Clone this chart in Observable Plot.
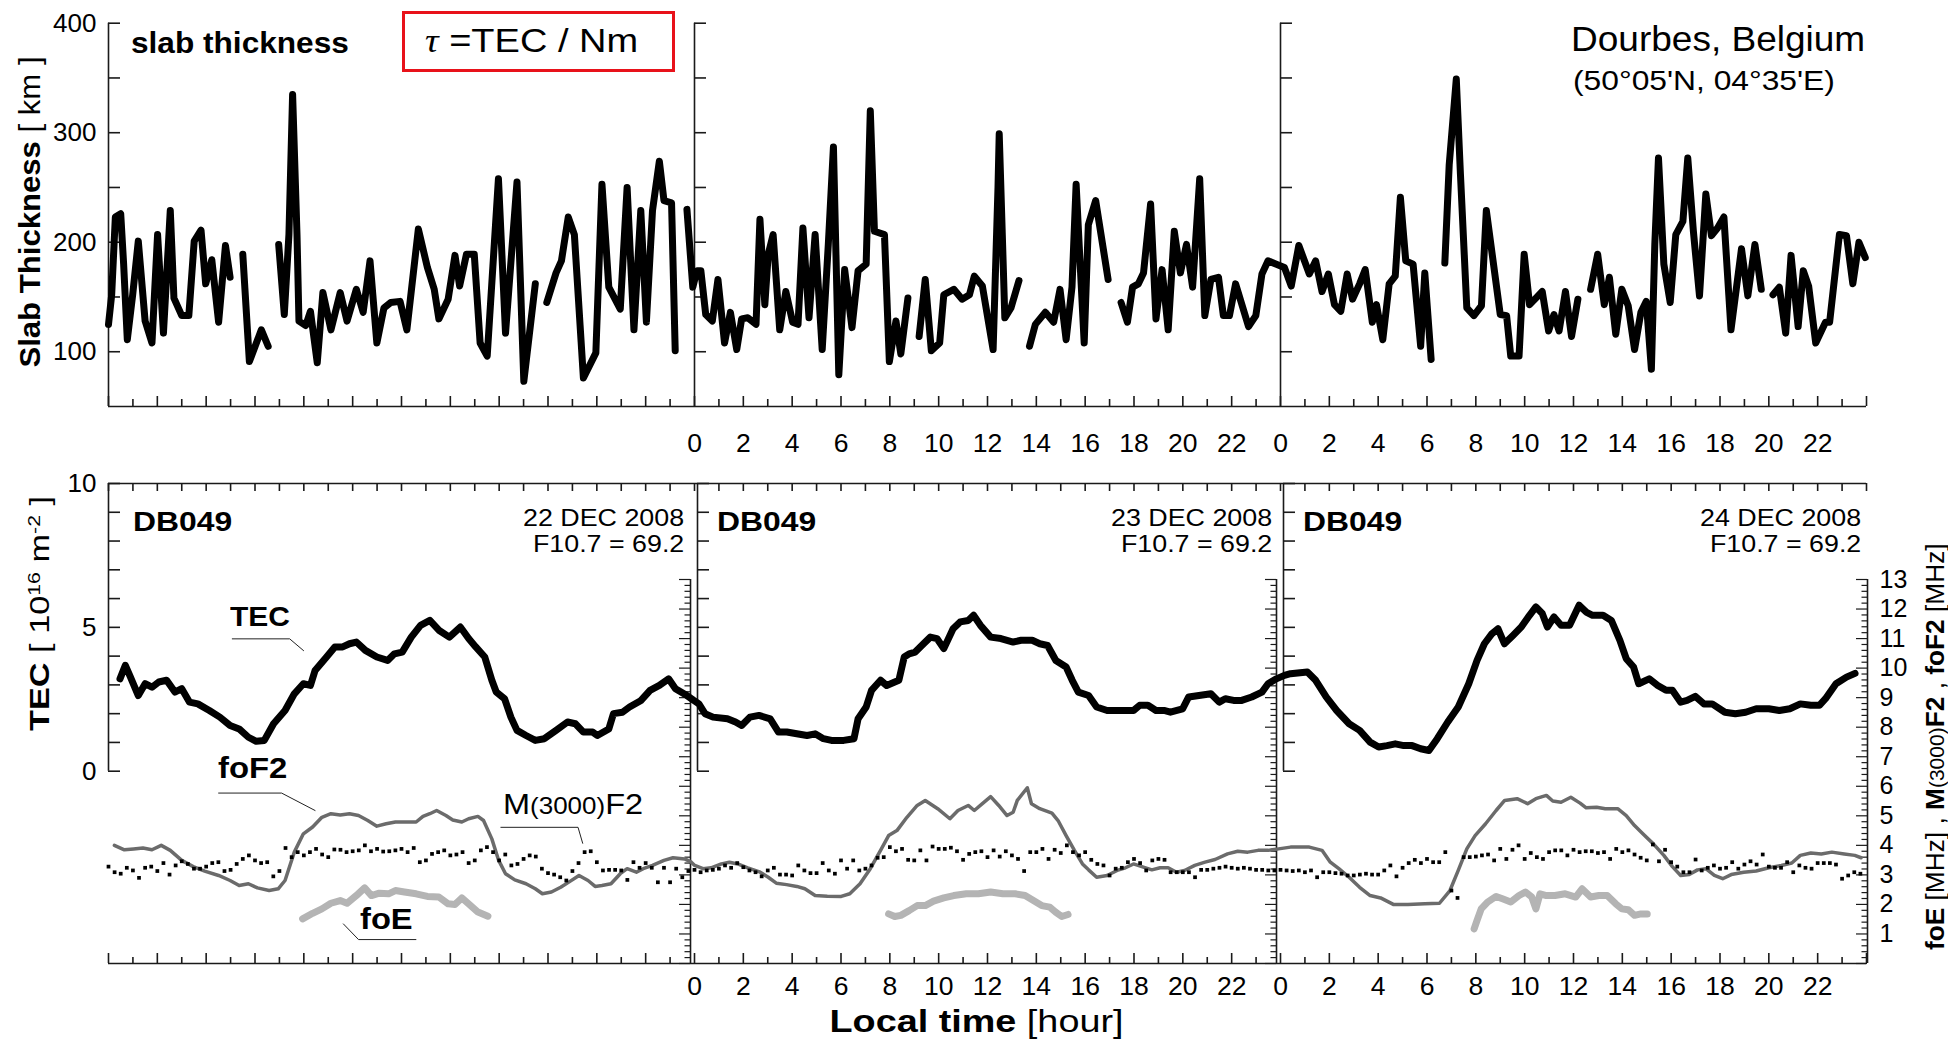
<!DOCTYPE html>
<html><head><meta charset="utf-8">
<script src="https://cdn.jsdelivr.net/npm/d3@7"></script>
<script src="https://cdn.jsdelivr.net/npm/@observablehq/plot@0.6"></script>
<style>
body{margin:0;background:#fff;}
#wrap{position:relative;width:1948px;height:1043px;overflow:hidden;font-family:"Liberation Sans",Arial,sans-serif;color:#000;background:#fff;}
#wrap svg{position:absolute;left:0;}
.t{position:absolute;white-space:nowrap;line-height:1;}
.t sup{font-size:0.62em;vertical-align:0.55em;line-height:0;}
.sm{font-size:0.8em;}
.b{font-weight:bold;}
#taubox{position:absolute;left:402px;top:11px;width:273px;height:61px;box-sizing:border-box;border:3px solid #e8121a;}
</style></head><body><div id="wrap"><div id="taubox"></div></div>
<script>
// ---------------- DATA ----------------
const dayStarts = [0, 24, 48];
const hourTickLabels = [0, 2, 4, 6, 8, 10, 12, 14, 16, 18, 20, 22];
const labeledDays = [1, 2];
const slabTickValues = [100, 150, 200, 250, 300, 350, 400];
const slabTickLabels = [100, 200, 300, 400];
const tecTickValues = [0, 1, 2, 3, 4, 5, 6, 7, 8, 9, 10];
const tecTickLabels = [0, 5, 10];
const mhzTickLabels = [1, 2, 3, 4, 5, 6, 7, 8, 9, 10, 11, 12, 13];
const dates = ["22 DEC 2008", "23 DEC 2008", "24 DEC 2008"];
const f107 = ["F10.7 = 69.2", "F10.7 = 69.2", "F10.7 = 69.2"];
const station = "DB049";

// slab thickness [km] : [local hour (0-72), value], null = gap
const slabThickness = [
[0.00,125],[0.13,152],[0.28,223],[0.50,226],[0.62,180],[0.77,111],[0.99,152],[1.22,201],[1.50,128],[1.78,108],[2.01,207],[2.25,117],[2.53,229],[2.68,149],[3.00,133],[3.29,133],[3.51,201],[3.79,211],[3.98,162],[4.23,184],[4.51,127],[4.79,197],[4.98,168],[5.2,null],
[5.50,189],[5.77,91],[6.26,120],[6.54,105],[6.75,null],
[6.97,198],[7.20,134],[7.39,207],[7.54,335],[7.72,207],[7.80,128],[8.08,124],[8.27,137],[8.55,90],[8.78,154],[9.11,120],[9.49,154],[9.77,128],[10.15,157],[10.43,136],[10.71,183],[10.99,108],[11.28,140],[11.56,145],[11.94,146],[12.22,120],[12.69,212],[13.06,177],[13.34,157],[13.53,130],[13.91,148],[14.19,188],[14.38,160],[14.66,189],[14.98,189],[15.22,108],[15.51,96],[15.97,258],[16.26,117],[16.73,255],[17.01,73],[17.48,162],[17.7,null],
[17.95,145],[18.33,172],[18.55,183],[18.83,223],[19.08,207],[19.45,76],[19.96,99],[20.21,253],[20.49,159],[20.96,139],[21.24,250],[21.52,120],[21.80,229],[22.03,127],[22.28,229],[22.56,274],[22.75,238],[23.06,236],[23.21,101],[23.45,null],
[23.69,230],[23.93,159],[24.10,174],[24.26,174],[24.46,134],[24.73,128],[24.96,166],[25.23,108],[25.47,136],[25.73,102],[25.93,130],[26.18,131],[26.52,125],[26.68,221],[26.88,143],[27.02,189],[27.22,207],[27.49,120],[27.74,155],[28.02,127],[28.24,125],[28.44,213],[28.69,131],[28.94,207],[29.23,102],[29.48,198],[29.69,287],[29.91,79],[30.15,175],[30.45,122],[30.70,174],[31.03,180],[31.20,320],[31.37,210],[31.78,207],[31.98,91],[32.25,128],[32.45,98],[32.74,149],[32.95,null],
[33.20,114],[33.45,166],[33.70,101],[34.04,108],[34.21,152],[34.62,157],[34.96,148],[35.26,152],[35.46,169],[35.79,160],[36.23,102],[36.43,250],[36.48,299],[36.71,131],[36.96,140],[37.29,165],[37.5,null],
[37.72,105],[37.96,125],[38.37,136],[38.71,127],[38.97,157],[39.22,111],[39.46,159],[39.63,253],[39.76,195],[39.96,108],[40.13,216],[40.43,238],[40.94,166],[41.2,null],
[41.47,145],[41.73,127],[41.94,159],[42.18,162],[42.39,172],[42.68,235],[42.90,130],[43.15,175],[43.40,120],[43.65,210],[43.90,172],[44.15,198],[44.40,159],[44.69,258],[44.90,133],[45.15,166],[45.46,168],[45.66,133],[45.91,133],[46.16,162],[46.69,123],[46.99,133],[47.24,171],[47.49,183],[47.83,180],[48.16,177],[48.44,160],[48.75,197],[49.18,171],[49.44,183],[49.70,155],[49.96,171],[50.21,143],[50.47,137],[50.73,171],[50.95,148],[51.24,162],[51.47,175],[51.76,127],[51.93,143],[52.19,111],[52.45,162],[52.70,169],[52.91,241],[53.13,183],[53.43,180],[53.74,105],[53.91,172],[54.17,93],[54.45,null],
[54.73,181],[54.91,271],[55.20,349],[55.37,262],[55.63,140],[55.92,133],[56.23,142],[56.43,229],[57.00,134],[57.26,133],[57.43,96],[57.77,96],[57.98,189],[58.20,143],[58.46,149],[58.72,155],[58.98,119],[59.20,134],[59.41,119],[59.67,155],[59.92,114],[60.18,148],[60.45,null],
[60.70,157],[60.99,189],[61.26,143],[61.47,168],[61.73,116],[61.98,157],[62.24,142],[62.50,102],[62.76,136],[62.98,146],[63.19,84],[63.33,198],[63.48,277],[63.70,180],[63.96,145],[64.19,207],[64.48,219],[64.68,277],[64.91,210],[65.16,151],[65.42,244],[65.65,206],[65.90,213],[66.16,223],[66.45,120],[66.88,194],[67.14,151],[67.43,198],[67.69,157],[67.95,null],
[68.17,152],[68.43,159],[68.69,117],[68.91,188],[69.20,123],[69.41,174],[69.63,160],[69.92,108],[70.32,127],[70.49,127],[70.89,207],[71.18,206],[71.44,162],[71.69,200],[71.95,186]
];

// TEC [10^16 m^-2]
const tec = [
[0.47,3.21],[0.69,3.68],[0.90,3.27],[1.22,2.63],[1.50,3.04],[1.78,2.92],[2.06,3.10],[2.38,3.16],[2.72,2.75],[3.00,2.87],[3.32,2.40],[3.66,2.34],[4.13,2.11],[4.56,1.88],[4.98,1.59],[5.35,1.47],[5.73,1.18],[6.05,1.04],[6.38,1.07],[6.76,1.65],[7.23,2.11],[7.61,2.69],[7.98,3.04],[8.27,2.98],[8.46,3.50],[8.93,3.97],[9.27,4.32],[9.59,4.32],[9.87,4.43],[10.15,4.49],[10.52,4.20],[10.99,3.97],[11.43,3.85],[11.71,4.08],[12.03,4.14],[12.40,4.66],[12.78,5.07],[13.16,5.24],[13.53,4.90],[13.96,4.66],[14.41,5.01],[14.75,4.61],[15.04,4.32],[15.41,3.97],[15.70,3.16],[15.88,2.75],[16.22,2.52],[16.48,1.88],[16.73,1.42],[17.10,1.24],[17.48,1.07],[17.85,1.13],[18.33,1.42],[18.80,1.71],[19.12,1.65],[19.45,1.36],[19.83,1.36],[20.02,1.24],[20.49,1.47],[20.68,2.00],[21.05,2.05],[21.34,2.23],[21.81,2.46],[22.18,2.81],[22.56,2.98],[22.94,3.21],[23.22,2.87],[23.69,2.63],[23.97,2.46],
[24.18,2.34],[24.43,2.00],[24.76,1.88],[25.35,1.82],[25.68,1.71],[25.93,1.59],[26.27,1.88],[26.64,1.94],[27.10,1.82],[27.44,1.36],[27.78,1.36],[28.19,1.30],[28.61,1.24],[28.94,1.30],[29.28,1.13],[29.61,1.07],[30.11,1.07],[30.53,1.13],[30.70,1.82],[31.03,2.23],[31.25,2.81],[31.62,3.16],[31.87,2.98],[32.37,3.16],[32.59,3.97],[32.79,4.08],[33.04,4.14],[33.38,4.43],[33.66,4.66],[33.93,4.61],[34.21,4.26],[34.59,4.95],[34.88,5.19],[35.21,5.24],[35.43,5.42],[35.71,5.07],[36.13,4.66],[36.55,4.61],[36.80,4.55],[37.05,4.49],[37.38,4.55],[37.83,4.55],[38.14,4.43],[38.46,4.37],[38.80,3.85],[39.22,3.62],[39.47,3.16],[39.72,2.75],[40.14,2.63],[40.47,2.23],[40.90,2.11],[41.40,2.11],[41.98,2.11],[42.23,2.29],[42.57,2.29],[42.90,2.11],[43.23,2.11],[43.49,2.05],[43.99,2.17],[44.24,2.58],[44.66,2.63],[45.15,2.69],[45.49,2.40],[45.74,2.52],[46.08,2.46],[46.41,2.46],[46.82,2.58],[47.24,2.75],[47.49,3.04],[47.83,3.21],[48.16,3.33],
[48.41,3.39],[49.10,3.45],[49.44,3.16],[49.87,2.58],[50.30,2.11],[50.81,1.65],[51.24,1.42],[51.67,1.01],[52.02,0.84],[52.36,0.89],[52.70,0.95],[53.05,0.89],[53.39,0.89],[53.74,0.78],[54.08,0.72],[54.42,1.13],[54.85,1.71],[55.28,2.23],[55.71,3.04],[56.05,3.85],[56.35,4.43],[56.66,4.78],[56.91,4.95],[57.17,4.43],[57.52,4.72],[57.86,5.01],[58.20,5.42],[58.46,5.71],[58.72,5.48],[58.93,5.01],[59.20,5.36],[59.49,5.07],[59.84,5.07],[60.23,5.77],[60.52,5.53],[60.78,5.42],[61.21,5.42],[61.55,5.24],[61.90,4.55],[62.16,3.91],[62.46,3.62],[62.67,3.04],[63.10,3.21],[63.45,2.98],[63.79,2.81],[64.05,2.81],[64.39,2.40],[64.65,2.46],[64.99,2.60],[65.34,2.34],[65.68,2.34],[66.20,2.05],[66.63,2.00],[67.05,2.05],[67.48,2.17],[68.00,2.17],[68.43,2.11],[68.86,2.17],[69.29,2.34],[69.72,2.29],[70.07,2.29],[70.32,2.52],[70.75,3.04],[71.18,3.27],[71.53,3.40]
];

// foF2 [MHz]
const foF2 = [
[0.24,4.00],[0.65,3.85],[1.03,3.88],[1.41,3.91],[1.78,3.85],[2.16,4.00],[2.53,3.83],[3.00,3.49],[3.47,3.28],[3.94,3.13],[4.51,2.98],[4.98,2.81],[5.35,2.64],[5.73,2.70],[6.10,2.56],[6.58,2.47],[6.95,2.53],[7.23,2.81],[7.61,3.77],[7.98,4.39],[8.36,4.62],[8.74,4.95],[9.11,5.07],[9.49,5.03],[9.87,5.07],[10.24,5.01],[10.62,4.84],[10.99,4.65],[11.37,4.73],[11.75,4.79],[12.22,4.79],[12.60,4.79],[12.88,4.98],[13.16,5.07],[13.44,5.18],[13.82,5.01],[14.10,4.86],[14.47,4.79],[14.75,4.90],[15.13,4.98],[15.36,4.84],[15.70,4.22],[15.98,3.49],[16.26,3.04],[16.64,2.83],[17.10,2.70],[17.48,2.53],[17.77,2.36],[18.14,2.42],[18.52,2.58],[18.90,2.78],[19.27,2.98],[19.64,2.81],[19.93,2.61],[20.21,2.64],[20.58,2.70],[20.96,3.04],[21.24,3.21],[21.62,3.09],[21.90,3.21],[22.28,3.32],[22.75,3.49],[23.12,3.58],[23.60,3.54],[23.87,3.43],
[24.01,3.32],[24.35,3.21],[24.68,3.24],[25.10,3.37],[25.43,3.43],[25.77,3.37],[26.18,3.24],[26.69,3.09],[27.02,2.92],[27.35,2.72],[27.77,2.67],[28.19,2.61],[28.52,2.53],[28.94,2.30],[29.44,2.28],[30.01,2.27],[30.36,2.36],[30.78,2.70],[31.20,3.21],[31.62,3.83],[31.95,4.33],[32.29,4.50],[32.70,4.95],[33.12,5.35],[33.45,5.52],[33.96,5.24],[34.46,4.90],[34.79,5.18],[35.21,5.35],[35.46,5.18],[35.79,5.41],[36.13,5.65],[36.46,5.35],[36.80,5.01],[37.05,5.12],[37.22,5.52],[37.63,5.95],[37.80,5.41],[38.14,5.24],[38.64,5.09],[38.89,4.84],[39.22,4.33],[39.56,3.83],[39.89,3.37],[40.14,3.17],[40.47,2.92],[40.90,2.98],[41.31,3.15],[41.65,3.24],[41.98,3.37],[42.32,3.28],[42.73,3.17],[43.07,3.24],[43.40,3.24],[43.74,3.09],[44.07,3.15],[44.49,3.32],[44.91,3.43],[45.32,3.52],[45.83,3.71],[46.25,3.80],[46.66,3.77],[47.08,3.83],[47.50,3.83],[47.92,3.88],
[48.41,3.94],[49.18,3.94],[49.70,3.83],[50.04,3.43],[50.39,3.21],[50.81,2.92],[51.24,2.58],[51.67,2.30],[52.10,2.22],[52.62,2.00],[53.22,2.00],[53.91,2.02],[54.51,2.04],[54.94,2.47],[55.28,3.15],[55.63,3.88],[55.97,4.33],[56.40,4.73],[56.83,5.18],[57.18,5.52],[57.69,5.58],[58.12,5.41],[58.46,5.58],[58.89,5.69],[59.15,5.50],[59.49,5.46],[59.89,5.63],[60.27,5.43],[60.52,5.27],[60.95,5.29],[61.30,5.24],[61.81,5.24],[62.16,5.01],[62.50,4.67],[62.84,4.39],[63.27,4.05],[63.70,3.66],[64.05,3.28],[64.39,2.98],[64.74,3.01],[65.08,3.17],[65.42,3.21],[65.77,2.98],[66.11,2.87],[66.46,3.01],[66.97,3.09],[67.48,3.13],[68.00,3.24],[68.51,3.32],[68.94,3.40],[69.29,3.66],[69.72,3.74],[70.15,3.71],[70.58,3.77],[71.09,3.71],[71.52,3.66],[71.78,3.58]
];

// foE [MHz]
const foE = [
[7.95,1.51],[8.36,1.70],[8.74,1.85],[9.11,2.04],[9.49,2.13],[9.77,2.04],[10.15,2.30],[10.49,2.56],[10.77,2.30],[11.09,2.38],[11.47,2.36],[11.75,2.47],[12.12,2.42],[12.60,2.36],[13.06,2.27],[13.53,2.25],[13.91,2.02],[14.19,2.00],[14.47,2.22],[14.75,2.02],[15.13,1.74],[15.54,1.60],[20,null],
[31.95,1.68],[32.20,1.59],[32.45,1.63],[32.79,1.79],[33.12,1.96],[33.45,1.96],[33.79,2.11],[34.21,2.22],[34.62,2.30],[35.13,2.36],[35.63,2.36],[36.13,2.42],[36.63,2.36],[37.13,2.36],[37.54,2.30],[37.88,2.13],[38.22,1.96],[38.55,1.91],[38.79,1.74],[39.04,1.59],[39.30,1.66],[45,null],
[55.93,1.17],[56.05,1.46],[56.22,1.85],[56.48,2.08],[56.83,2.27],[57.09,2.19],[57.43,2.08],[57.77,2.30],[58.03,2.42],[58.29,2.25],[58.46,1.85],[58.63,2.36],[58.89,2.30],[59.24,2.30],[59.66,2.36],[60.09,2.25],[60.35,2.53],[60.70,2.25],[61.04,2.30],[61.38,2.30],[61.73,2.02],[61.98,1.85],[62.24,1.82],[62.50,1.63],[62.76,1.68],[63.02,1.68]
];

// M(3000)F2, one value every 15 min for each day
const m3000Day1 = [3.28,3.09,3.04,3.24,3.15,2.90,3.24,3.28,3.13,3.40,3.01,3.32,3.46,3.37,3.21,3.21,3.28,3.40,3.43,3.13,3.17,3.37,3.54,3.66,3.49,3.40,3.43,2.95,3.13,3.91,3.60,3.77,3.66,3.77,3.88,3.69,3.60,3.86,3.85,3.77,3.80,3.83,4.00,3.80,3.88,3.79,3.80,3.83,3.88,3.77,3.91,3.43,3.49,3.71,3.77,3.83,3.66,3.69,3.77,3.40,3.49,3.83,3.94,3.77,3.49,3.69,3.32,3.37,3.54,3.66,3.62,3.21,3.06,3.01,2.92,2.81,3.13,3.40,3.77,3.80,3.43,3.15,3.17,3.17,3.15,2.83,3.43,3.24,3.40,3.24,2.75,3.24,2.75,3.21,2.92,3.13];
const m3000Day2 = [3.17,3.09,3.15,3.17,3.21,3.32,3.24,3.40,3.26,3.15,3.09,2.95,3.15,3.24,3.01,3.01,2.98,3.32,3.15,3.06,3.06,3.40,3.15,3.04,3.49,3.21,3.49,3.15,3.21,3.32,3.58,3.60,3.94,3.80,3.88,3.51,3.49,3.83,3.49,3.96,3.88,3.88,3.92,3.80,3.51,3.71,3.77,3.80,3.60,3.83,3.62,3.80,3.66,3.54,3.13,3.77,3.77,3.88,3.54,3.85,3.74,4.00,3.77,3.66,3.77,3.51,3.37,3.32,2.98,3.21,3.24,3.43,3.54,3.40,3.15,3.49,3.54,3.51,3.09,3.09,3.09,3.09,2.92,3.17,3.17,3.21,3.24,3.28,3.24,3.21,3.24,3.21,3.17,3.17,3.15,3.15];
const m3000Day3 = [3.17,3.15,3.13,3.15,3.09,3.15,2.92,3.09,3.09,3.06,3.04,2.98,2.98,3.01,3.04,3.01,3.01,3.15,3.32,2.95,3.24,3.40,3.51,3.40,3.54,3.43,3.43,3.77,2.47,2.22,3.60,3.60,3.62,3.66,3.69,3.49,3.88,3.54,3.85,4.00,3.54,3.74,3.60,3.54,3.77,3.83,3.83,3.66,3.85,3.77,3.80,3.80,3.74,3.77,3.54,3.88,3.77,3.83,3.69,3.58,3.49,4.03,3.46,3.85,3.43,3.28,3.09,3.09,3.52,3.15,3.24,3.32,3.21,3.24,3.43,3.21,3.35,3.46,3.35,3.69,3.28,3.24,3.24,3.43,3.09,3.32,3.24,3.21,3.40,3.40,3.40,3.35,2.87,2.98,3.09,3.04];

// label leader lines (hour, value); unit: "tec" or "mhz"
const leaders = [
  {unit: "tec", pts: [[5.07,4.60],[7.42,4.60],[7.99,4.19]]},
  {unit: "mhz", pts: [[4.51,5.77],[7.09,5.77],[8.46,5.18]]},
  {unit: "mhz", pts: [[16.07,4.61],[19.23,4.61],[19.42,4.07]]},
  {unit: "mhz", pts: [[9.62,1.34],[10.24,0.81],[12.59,0.81]]}
];

// ---------------- LAYOUT ----------------
const W = 1948, ML = 108, MR = 82;
const hPerPx = 72 / (W - ML - MR);
const AX = "#1a1a1a", AXW = 1.6;
const FONT = "Liberation Sans, Arial, Helvetica, sans-serif";
const wrap = document.getElementById("wrap");
const hourTicks = d3.range(0, 73);
const labeledHours = labeledDays.flatMap(d => hourTickLabels.map(h => ({x: d * 24 + h, t: String(h)})));

// ---- top panel: slab thickness ----
const topH = 465, topMT = 22.7, topMB = 59;
const kmPerPx = (400 - 50) / (topH - topMT - topMB);
const slabTicks = dayStarts.flatMap(x => slabTickValues.map(v => ({x, v})));

const topChart = Plot.plot({
  width: W, height: topH,
  marginLeft: ML, marginRight: MR, marginTop: topMT, marginBottom: topMB,
  x: {domain: [0, 72], axis: null},
  y: {domain: [50, 400], axis: null},
  style: {fontFamily: FONT, background: "transparent", overflow: "visible", color: "#000"},
  marks: [
    Plot.ruleX(dayStarts, {x: d => d, y1: 50, y2: 400, stroke: AX, strokeWidth: AXW}),
    Plot.ruleY([50], {x1: 0, x2: 72, stroke: AX, strokeWidth: AXW}),
    Plot.ruleY(slabTicks, {y: "v", x1: "x", x2: d => d.x + 12 * hPerPx, stroke: AX, strokeWidth: AXW}),
    Plot.ruleX(hourTicks, {x: d => d, y1: 50, y2: d => 50 + (d % 2 ? 7 : 10) * kmPerPx, stroke: AX, strokeWidth: AXW}),
    Plot.text(slabTickLabels, {x: 0, y: d => d, text: d => String(d), textAnchor: "end", dx: -12, fontSize: 26, lineAnchor: "middle", fill: "#000"}),
    Plot.text(labeledHours, {x: "x", y: 50, text: "t", dy: 37, fontSize: 26.5, lineAnchor: "middle", fill: "#000"}),
    Plot.line(slabThickness, {x: d => d[0], y: d => d[1], stroke: "#000", strokeWidth: 7, strokeLinejoin: "round", strokeLinecap: "round"})
  ]
});
topChart.style.top = "0px";
wrap.appendChild(topChart);

// ---- bottom panel: TEC, foF2, M(3000)F2, foE ----
const botTop = 465, botH = 578, botMT = 18, botMB = 80;
const TEC_MIN = -6.684, TEC_MAX = 10, MHZ_TOP = 16.25;
const mhz = m => TEC_MIN + m * (TEC_MAX - TEC_MIN) / MHZ_TOP;   // MHz axis mapped onto the shared y scale
const tecPerPx = (TEC_MAX - TEC_MIN) / (botH - botMT - botMB);

const tecAxisTicks = (xs) => xs.flatMap(x => tecTickValues.map(v => ({x, v})));
const mhzMinor = d3.range(0, 66).map(i => i / 5);
const mhzAxisTicks = (xs) => xs.flatMap(x => mhzMinor.map(v => ({x, v, major: Math.abs(v - Math.round(v)) < 1e-6})));
const m3000 = [m3000Day1, m3000Day2, m3000Day3].flatMap((arr, d) => arr.map((v, i) => ({h: d * 24 + i * 0.25, v})));
const leaderPts = leaders.flatMap((l, k) => l.pts.map(p => ({k, h: p[0], y: l.unit === "mhz" ? mhz(p[1]) : p[1]})));

function tecAxis(xs, dx) {
  return [
    Plot.ruleX(xs, {x: d => d, y1: 0, y2: 10, dx, stroke: AX, strokeWidth: AXW}),
    Plot.ruleY(tecAxisTicks(xs), {y: "v", x1: "x", x2: d => d.x + 12 * hPerPx, dx, stroke: AX, strokeWidth: AXW})
  ];
}
function mhzAxis(xs, dx) {
  return [
    Plot.ruleX(xs, {x: d => d, y1: mhz(0), y2: mhz(13), dx, stroke: AX, strokeWidth: AXW}),
    Plot.ruleY(mhzAxisTicks(xs), {y: d => mhz(d.v), x1: d => d.x - (d.major ? 11 : 5.5) * hPerPx, x2: "x", dx, stroke: AX, strokeWidth: 1.2})
  ];
}

const botChart = Plot.plot({
  width: W, height: botH,
  marginLeft: ML, marginRight: MR, marginTop: botMT, marginBottom: botMB,
  x: {domain: [0, 72], axis: null},
  y: {domain: [TEC_MIN, TEC_MAX], axis: null},
  style: {fontFamily: FONT, background: "transparent", overflow: "visible", color: "#000"},
  marks: [
    Plot.ruleY([TEC_MAX], {x1: 0, x2: 72, stroke: AX, strokeWidth: AXW}),
    Plot.ruleY([TEC_MIN], {x1: 0, x2: 72, stroke: AX, strokeWidth: AXW}),
    Plot.ruleX(hourTicks, {x: d => d, y1: TEC_MAX, y2: TEC_MAX - 8 * tecPerPx, stroke: AX, strokeWidth: AXW}),
    Plot.ruleX(hourTicks, {x: d => d, y1: TEC_MIN, y2: d => TEC_MIN + (d % 2 ? 6 : 10) * tecPerPx, stroke: AX, strokeWidth: AXW}),
    ...tecAxis([dayStarts[0]], 0),
    ...tecAxis(dayStarts.slice(1), 3),
    ...mhzAxis([24, 48], -4),
    ...mhzAxis([72], 1),
    Plot.text(tecTickLabels, {x: 0, y: d => d, text: d => String(d), textAnchor: "end", dx: -12, fontSize: 26, lineAnchor: "middle", fill: "#000"}),
    Plot.text(mhzTickLabels, {x: 72, y: d => mhz(d), text: d => String(d), textAnchor: "start", dx: 13, fontSize: 25, lineAnchor: "middle", fill: "#000"}),
    Plot.text(labeledHours, {x: "x", y: TEC_MIN, text: "t", dy: 23, fontSize: 26.5, lineAnchor: "middle", fill: "#000"}),
    Plot.line(leaderPts, {x: "h", y: "y", z: "k", stroke: "#222", strokeWidth: 1}),
    Plot.line(foE, {x: d => d[0], y: d => d[1] == null ? null : mhz(d[1]), stroke: "#b4b4b4", strokeWidth: 7, strokeLinejoin: "round", strokeLinecap: "round"}),
    Plot.line(foF2, {x: d => d[0], y: d => mhz(d[1]), stroke: "#6b6b6b", strokeWidth: 3.5, strokeLinejoin: "round"}),
    Plot.dot(m3000, {x: "h", y: d => mhz(d.v), symbol: "square", r: 2.1, fill: "#000", stroke: null}),
    Plot.line(tec, {x: d => d[0], y: d => d[1], stroke: "#000", strokeWidth: 7, strokeLinejoin: "round", strokeLinecap: "round"})
  ]
});
botChart.style.top = botTop + "px";
wrap.appendChild(botChart);

// ---------------- TEXT ----------------
function label(html, o) {
  const el = document.createElement("div");
  el.className = "t";
  el.innerHTML = html;
  el.style.fontSize = o.size + "px";
  if (o.bold) el.style.fontWeight = "bold";
  wrap.appendChild(el);
  const w = el.offsetWidth, h = el.offsetHeight;
  const s = o.width ? o.width / w : 1;
  if (o.rotate) {
    el.style.left = (o.cx - w / 2) + "px";
    el.style.top = (o.cy - h / 2) + "px";
    el.style.transformOrigin = "50% 50%";
    el.style.transform = `rotate(-90deg) scaleX(${s})`;
  } else {
    el.style.top = (o.baseline - 0.8465 * o.size) + "px";
    let left = o.x, origin = "0 0";
    if (o.anchor === "end") { left = o.x - w; origin = "100% 0"; }
    else if (o.anchor === "middle") { left = o.x - w / 2; origin = "50% 0"; }
    el.style.left = left + "px";
    el.style.transformOrigin = origin;
    el.style.transform = `scaleX(${s})`;
  }
  return el;
}

label("slab thickness", {x: 131, baseline: 54, size: 29, bold: true, width: 218});
label('<span style="font-family:\'Liberation Serif\',serif;font-style:italic">τ</span> =TEC / Nm', {x: 425, baseline: 52, size: 33, width: 213});
label("Dourbes, Belgium", {x: 1865, anchor: "end", baseline: 51, size: 35, width: 294});
label("(50°05'N, 04°35'E)", {x: 1573, baseline: 90, size: 28.5, width: 262});
label('<span class="b">Slab Thickness</span> [ km ]', {rotate: true, cx: 30, cy: 212, size: 30, width: 311});

const dayRight = [684, 1272, 1861];
const dayLeft = [133, 717, 1303];
dayStarts.forEach((d, i) => {
  label(station, {x: dayLeft[i], baseline: 532, size: 28, bold: true, width: 99});
  label(dates[i], {x: dayRight[i], anchor: "end", baseline: 527, size: 24.5, width: 161});
  label(f107[i], {x: dayRight[i], anchor: "end", baseline: 553, size: 24.5, width: 151});
});

label("TEC", {x: 230, baseline: 627, size: 28, bold: true, width: 60});
label("foF2", {x: 218, baseline: 778, size: 30, bold: true, width: 69});
label('M<span class="sm">(3000)</span>F2', {x: 503, baseline: 815, size: 29, width: 140});
label("foE", {x: 360, baseline: 930, size: 29, bold: true, width: 53});

label('<span class="b">TEC</span> [ 10<sup>16</sup> m<sup>-2</sup> ]', {rotate: true, cx: 40, cy: 613, size: 27, width: 235});
label('<span class="b">foE</span> [MHz] , <span class="b">M</span><span class="sm">(3000)</span><span class="b">F2</span> , <span class="b">foF2</span> [MHz]', {rotate: true, cx: 1935, cy: 747, size: 25.5, width: 407});
label('<span class="b">Local time</span> [hour]', {x: 976, anchor: "middle", baseline: 1032, size: 32, width: 294});
</script></body></html>
